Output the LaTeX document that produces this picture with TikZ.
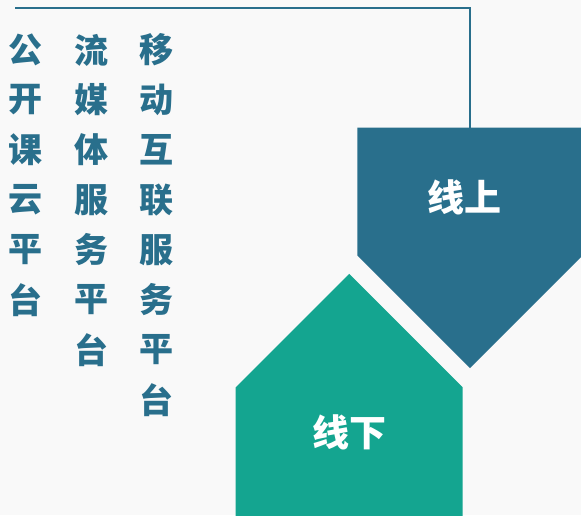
\documentclass[tikz,border=0pt]{standalone}
\usepackage{fontspec}
\newfontfamily\cjk{Noto Sans CJK SC}
\usepackage{xcolor}
\definecolor{plat-blue}{HTML}{296F8C}
\definecolor{plat-teal}{HTML}{14A590}
\definecolor{plat-back}{HTML}{F9F9F9}
\usepackage{tikz}

\begin{document}
\begin{tikzpicture}[x=1pt, y=-1pt,
    side/.style={text=plat-blue, inner sep=0pt, font=\cjk\bfseries\fontsize{34}{34}\selectfont},
    title/.style={text=white, inner sep=0pt, font=\cjk\bfseries\fontsize{37}{37}\selectfont}]

    % Background
    \useasboundingbox (0, 0) rectangle (581, 515);
    \clip (0, 0) rectangle (581, 515);
    \fill[plat-back] (0, 0) rectangle (581, 515);

    % online
    \fill[plat-blue] (357.3, 127.5) -- (582.7, 127.5) -- (582.7, 255.5)
                 -- (470, 368.2) -- (357.3, 255.5) -- cycle;
    \node[title] (online) at (464, 197) {线上};

    % offline
    \fill[plat-teal] (235.7, 387.3) -- (349.2, 273.8) -- (462.7, 387.3)
                 -- (462.7, 520) -- (235.7, 520) -- cycle;
    \node[title] (offline) at (349, 432) {线下};

    % platforms
    \foreach \ch [count=\i] in {公,开,课,云,平,台}
        \node[side] (open-\i) at (26, 50*\i) {\ch};
    \foreach \ch [count=\i] in {流,媒,体,服,务,平,台}
        \node[side] (media-\i) at (91, 50*\i) {\ch};
    \foreach \ch [count=\i] in {移,动,互,联,服,务,平,台}
        \node[side] (mobile-\i) at (156, 50*\i) {\ch};

    % line
    \coordinate (start) at (15, 8.3);
    \coordinate (top) at (470, 127.5);
    \draw[plat-blue, line width=2pt] (start) -| (top);

\end{tikzpicture}
\end{document}
